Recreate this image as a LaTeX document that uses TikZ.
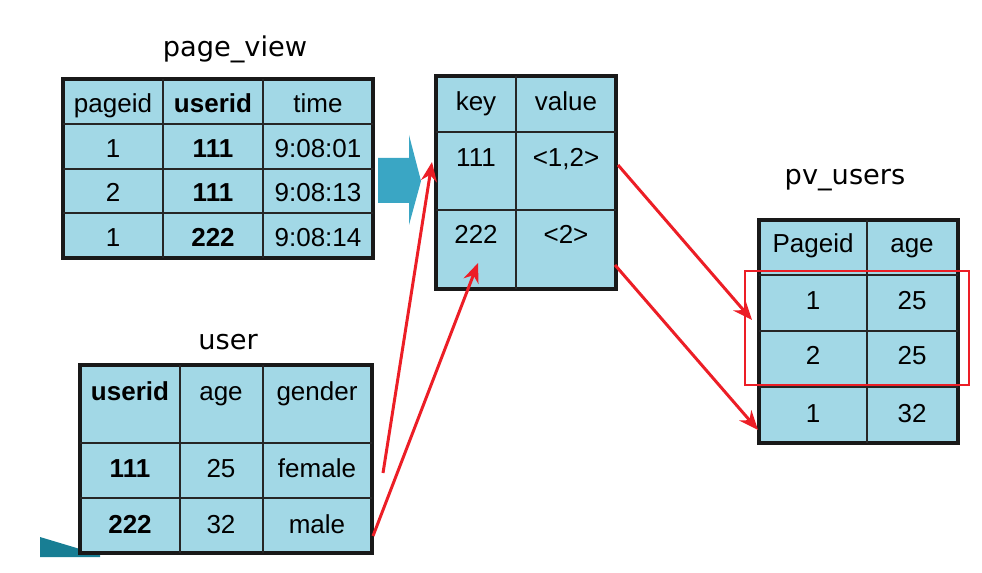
\documentclass[tikz,border=0pt]{standalone}
\usepackage{fontspec}
\setmainfont{Liberation Sans}
\newfontfamily\titlefont{DejaVu Sans}
\usetikzlibrary{arrows.meta,positioning}
\definecolor{cellblue}{RGB}{162,216,230}
\definecolor{arrowblue}{RGB}{58,166,196}
\definecolor{slideteal}{RGB}{24,126,148}
\definecolor{joinred}{RGB}{236,30,38}

\newcommand{\tabsize}{\fontsize{14.8}{16}\selectfont}

\begin{document}
\begin{tikzpicture}[x=0.02cm,y=-0.02cm,
    tab/.style={fill=cellblue,draw=black!90,line width=2pt},
    grid/.style={draw=black!85,line width=0.9pt},
    val/.style={font=\tabsize,inner sep=0pt,anchor=base},
    bval/.style={font=\tabsize\bfseries,inner sep=0pt,anchor=base},
    ttl/.style={font=\titlefont\fontsize{15.5}{18}\selectfont,inner sep=0pt,anchor=base},
    joinarrow/.style={draw=joinred,line width=1.7pt,-{Stealth[length=11pt,width=9pt]}}]
  \useasboundingbox (0,0) rectangle (982,573);

  % slide decoration peeking out
  \fill[slideteal] (40,537) -- (100,555) -- (100,557) -- (40,557) -- cycle;

  % page_view
  \node[ttl] (viewtitle) at (235,57) {page\_view};
  \draw[tab] (63,79) rectangle (373,258);
  \foreach \x in {163,263} \draw[grid] (\x,79) -- (\x,258);
  \foreach \y in {124,169,213} \draw[grid] (63,\y) -- (373,\y);
  \foreach \y/\a/\b/\c [count=\r] in {113/pageid/userid/time, 158/1/111/9:08:01,
      202/2/111/9:08:13, 247/1/222/9:08:14} {
    \node[val] (view-\r-1) at (113,\y) {\a};
    \node[bval] (view-\r-2) at (213,\y) {\b};
    \node[val] (view-\r-3) at (318,\y) {\c};
  }

  % shuffle arrow
  \fill[arrowblue] (378,158) -- (409,158) -- (409,135) -- (421,181)
    -- (409,225) -- (409,203) -- (378,203) -- cycle;

  % key / value
  \draw[tab] (436,76) rectangle (616,289);
  \draw[grid] (516,76) -- (516,289);
  \foreach \y in {132,210} \draw[grid] (436,\y) -- (616,\y);
  \node[val] (key-1) at (476,111) {key};
  \node[val] (value-1) at (566,111) {value};
  \node[val] (key-2) at (476,167) {111};
  \node[val] (value-2) at (566,167) {<1,2>};
  \node[val] (key-3) at (476,244) {222};
  \node[val] (value-3) at (566,244) {<2>};

  % user
  \node[ttl] (usertitle) at (228,350) {user};
  \draw[tab] (80,365) rectangle (372,553);
  \foreach \x in {180,263} \draw[grid] (\x,365) -- (\x,553);
  \foreach \y in {443,498} \draw[grid] (80,\y) -- (372,\y);
  \foreach \y/\a/\b/\c [count=\r] in {400/userid/age/gender, 477/111/25/female,
      533/222/32/male} {
    \node[bval] (user-\r-1) at (130,\y) {\a};
    \node[val] (user-\r-2) at (221,\y) {\b};
    \node[val] (user-\r-3) at (317,\y) {\c};
  }

  % pv_users
  \node[ttl] (pvtitle) at (845,185) {pv\_users};
  \draw[tab] (759,220) rectangle (958,443);
  \draw[grid] (867,220) -- (867,443);
  \foreach \y in {275,331,387} \draw[grid] (759,\y) -- (958,\y);
  \foreach \y/\a/\b [count=\r] in {253/Pageid/age, 310/1/25, 365/2/25, 422/1/32} {
    \node[val] (pv-\r-1) at (813,\y) {\a};
    \node[val] (pv-\r-2) at (912,\y) {\b};
  }
  \draw[joinred,line width=1.2pt] (745,271) rectangle (969,385);

  % join arrows
  \coordinate (femaleend) at (383,473);
  \coordinate (maleend) at (373,536);
  \coordinate (onekey) at (432,162);
  \coordinate (twokey) at (478,263);
  \coordinate (onevalue) at (618,165);
  \coordinate (twovalue) at (615,265);
  \coordinate (firstrows) at (752,320);
  \coordinate (lastrow) at (758,430);
  \draw[joinarrow] (femaleend) -- (onekey);
  \draw[joinarrow] (maleend) -- (twokey);
  \draw[joinarrow] (onevalue) -- (firstrows);
  \draw[joinarrow] (twovalue) -- (lastrow);
\end{tikzpicture}
\end{document}
